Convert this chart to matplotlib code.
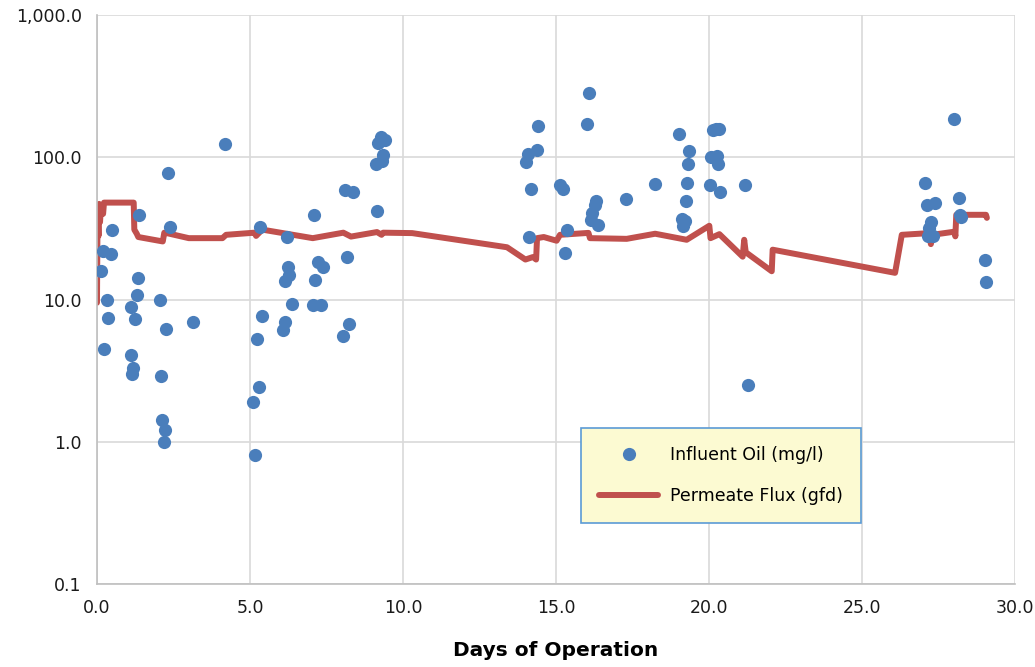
import matplotlib
matplotlib.use('Agg')
import matplotlib.pyplot as plt
from matplotlib.ticker import FixedLocator, FuncFormatter, NullLocator

# influent oil (mg/l) samples
oil_days = [0.13, 0.19, 0.22, 0.33, 0.36, 0.45, 0.48, 1.10, 1.11, 1.15, 1.19, 1.23,
            1.31, 1.33, 1.38, 2.05, 2.08, 2.12, 2.18, 2.22, 2.25, 2.33, 2.37, 3.14,
            4.18, 5.11, 5.16, 5.22, 5.29, 5.34, 5.39, 6.07, 6.14, 6.15, 6.21, 6.24,
            6.27, 6.37, 7.05, 7.09, 7.12, 7.21, 7.31, 7.37, 8.05, 8.09, 8.16, 8.22,
            8.35, 9.12, 9.15, 9.19, 9.28, 9.32, 9.35, 9.41,
            14.03, 14.09, 14.13, 14.17, 14.37, 14.41, 15.13, 15.24, 15.29, 15.37,
            16.02, 16.09, 16.14, 16.17, 16.28, 16.32, 16.36, 17.30, 18.22, 19.03,
            19.11, 19.16, 19.20, 19.24, 19.28, 19.32, 19.36, 20.03, 20.08, 20.14,
            20.22, 20.25, 20.28, 20.34, 20.36, 21.18, 21.29,
            27.06, 27.12, 27.14, 27.19, 27.26, 27.33, 27.37, 28.02, 28.16, 28.20,
            28.24, 29.02, 29.05]
oil_mgl = [15.8, 22, 4.5, 10, 7.4, 21, 31, 8.8, 4.1, 3.0, 3.3, 7.3,
           10.7, 14.1, 39, 9.9, 2.9, 1.42, 1.0, 1.21, 6.2, 78, 32.5, 7.0,
           124, 1.9, 0.81, 5.3, 2.43, 32.5, 7.7, 6.1, 7.0, 13.4, 27.3, 16.9,
           14.8, 9.3, 9.1, 39.5, 13.7, 18.4, 9.1, 17.0, 5.5, 59.3, 19.8, 6.7,
           57.4, 90, 41.6, 125, 138, 94, 104, 132,
           92, 106, 27.6, 60, 112, 166, 64, 60, 21.2, 30.6,
           172, 285, 36, 40.4, 46, 48.9, 33.3, 51, 65, 146,
           36.7, 32.7, 35.5, 49, 66, 90, 111, 64, 101, 155,
           157, 102, 90, 158, 57, 64, 2.5,
           66, 46, 27.9, 31.8, 35, 27.9, 48, 185, 51.5, 39,
           37.9, 19, 13.2]

# permeate flux (gfd)
flux_days = [0.00, 0.02, 0.05, 0.07, 0.10, 0.13, 0.20, 0.23, 0.50, 1.20, 1.22, 1.30,
             1.35, 2.15, 2.20, 2.28, 3.00, 4.10, 4.22, 5.15, 5.20, 5.40, 7.05, 8.05,
             8.30, 9.15, 9.30, 9.35, 10.30, 13.40, 14.00, 14.25, 14.35, 14.38, 14.60,
             15.02, 15.13, 16.06, 16.11, 17.31, 18.24, 19.27, 20.01, 20.05, 20.34,
             21.10, 21.15, 21.20, 22.05, 22.08, 26.08, 26.30, 27.20, 27.25, 27.30,
             28.03, 28.05, 28.08, 29.05, 29.08]
flux_gfd = [9.5, 45, 28, 47, 35, 46, 40, 48, 48, 48, 31, 29,
            27.5, 25.6, 29.5, 29.3, 27, 27, 28.5, 29.5, 28, 31, 27, 29.5,
            27.7, 29.8, 28.5, 29.5, 29.3, 23.3, 19.1, 19.9, 19.1, 27, 27.5,
            25.9, 28.5, 29.4, 27, 26.7, 29, 26.3, 33, 27, 28.8,
            20.0, 26.3, 21.5, 15.8, 22.4, 15.4, 28.5, 29.3, 24.5, 28.5,
            30, 27.8, 39.4, 39.4, 37.5]

x_ticks = [0, 5, 10, 15, 20, 25, 30]
y_ticks = [0.1, 1, 10, 100, 1000]

BLUE = '#4A7EBB'
RED = '#C0504D'
GRID = '#D9D9D9'

fig = plt.figure(figsize=(10.35, 6.67), dpi=100)
ax = fig.add_axes([0.0937, 0.1244, 0.8870, 0.8531])

ax.plot(oil_days, oil_mgl, 'o', color=BLUE, markersize=9.5, markeredgewidth=0,
        label='Influent Oil (mg/l)', zorder=3)
ax.plot(flux_days, flux_gfd, '-', color=RED, lw=4.3, solid_joinstyle='round',
        solid_capstyle='round', label='Permeate Flux (gfd)', zorder=2)

ax.set_yscale('log')
ax.set_xlim(0, 30)
ax.set_ylim(0.1, 1000)
ax.xaxis.set_major_locator(FixedLocator(x_ticks))
ax.yaxis.set_major_locator(FixedLocator(y_ticks))
ax.yaxis.set_minor_locator(NullLocator())
ax.xaxis.set_major_formatter(FuncFormatter(lambda v, p: f'{v:.1f}'))
ax.yaxis.set_major_formatter(FuncFormatter(lambda v, p: f'{v:,.1f}'))
ax.tick_params(length=0, labelsize=12.5, colors='#1a1a1a')
ax.tick_params(axis='y', pad=11)
ax.tick_params(axis='x', pad=11)

ax.grid(True, color=GRID, lw=1.2)
ax.set_axisbelow(True)
for s in ['top', 'right']:
    ax.spines[s].set_visible(False)
for s in ['left', 'bottom']:
    ax.spines[s].set_color('#BFBFBF')
    ax.spines[s].set_linewidth(1.2)

ax.set_xlabel('Days of Operation', fontsize=14.5, fontweight='bold',
              family=['Liberation Sans Narrow', 'DejaVu Sans'], labelpad=17)

leg = ax.legend(loc='upper left', bbox_to_anchor=(0.527, 0.274), fontsize=12.5,
                handlelength=3.4, handletextpad=0.7, borderpad=1.05,
                labelspacing=1.3, borderaxespad=0, fancybox=False,
                framealpha=1)
leg.get_frame().set_facecolor('#FCFAD2')
leg.get_frame().set_edgecolor('#5B9BD5')
leg.get_frame().set_linewidth(1.2)

plt.savefig('out.png', dpi=100)
